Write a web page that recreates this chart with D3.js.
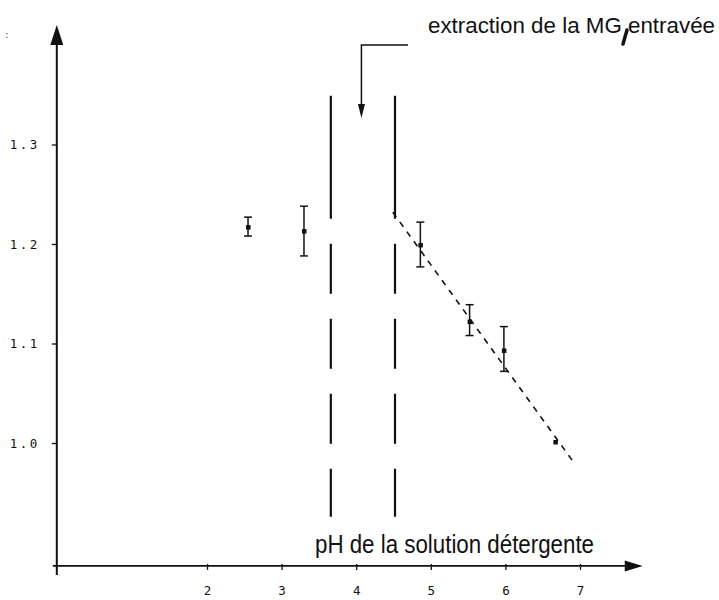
<!DOCTYPE html>
<html>
<head>
<meta charset="utf-8">
<script src="https://cdn.jsdelivr.net/npm/d3@7"></script>
<style>
  html, body { margin: 0; padding: 0; background: #fff; }
  svg { display: block; }
</style>
</head>
<body>
<script>
// ---- data ----
const phTicks = [2, 3, 4, 5, 6, 7];
const ratioTicks = [1.0, 1.1, 1.2, 1.3];
const ph = [2.55, 3.30, 4.86, 5.52, 5.98, 6.67];
const ratio = [1.217, 1.213, 1.199, 1.122, 1.093, 1.001];
const errLow = [1.208, 1.188, 1.177, 1.108, 1.072, null];
const errHigh = [1.227, 1.238, 1.222, 1.139, 1.117, null];
const boundaries = [3.66, 4.52];
const trendPh = [4.49, 6.93];
const trendRatio = [1.232, 0.979];
const xTitle = "pH de la solution détergente";
const note = "extraction de la MG entravée";

// ---- layout ----
const W = 719, H = 600;
const svg = d3.select("body").append("svg").attr("width", W).attr("height", H);

const x = d3.scaleLinear().domain([0, 7]).range([57.8, 580]);
const y = d3.scaleLinear().domain([1.0, 1.3]).range([443, 144.5]);

const ink = "#111";
const axisY = y(0.8765);
const axisX = x(0);
const fnt = "'Liberation Sans Narrow', 'Liberation Sans', Arial, sans-serif";

// x axis line with arrow
svg.append("line").attr("x1", axisX - 5).attr("x2", x(7.62)).attr("y1", axisY).attr("y2", axisY)
  .attr("stroke", ink).attr("stroke-width", 1.8);
svg.append("path")
  .attr("d", `M${x(7.84)},${axisY} L${x(7.6)},${axisY - 5.5} L${x(7.6)},${axisY + 5.5} Z`)
  .attr("fill", ink);

// y axis line with arrow
svg.append("line").attr("x1", axisX - 1).attr("x2", axisX - 1).attr("y1", y(1.40)).attr("y2", axisY + 9)
  .attr("stroke", ink).attr("stroke-width", 2);
svg.append("path")
  .attr("d", `M${axisX - 1},${y(1.42)} L${axisX - 7.5},${y(1.40)} L${axisX + 5.5},${y(1.40)} Z`)
  .attr("fill", ink);

// x ticks
const gx = svg.append("g").attr("transform", `translate(0,${axisY - 2})`)
  .call(d3.axisBottom(x).tickValues(phTicks).tickSize(6).tickPadding(16).tickFormat(d3.format("d")));
gx.select(".domain").remove();
gx.selectAll(".tick line").attr("stroke", ink).attr("stroke-width", 1.3);
gx.selectAll(".tick text").attr("fill", ink)
  .style("font-family", "'DejaVu Sans Mono', monospace").style("font-size", "12.5px");

// y ticks
const gy = svg.append("g").attr("transform", `translate(${axisX - 1},0)`)
  .call(d3.axisLeft(y).tickValues(ratioTicks).tickSize(5).tickPadding(12).tickFormat(d3.format(".1f")));
gy.select(".domain").remove();
gy.selectAll(".tick line").attr("stroke", ink).attr("stroke-width", 1.3);
gy.selectAll(".tick text").attr("fill", ink)
  .style("font-family", "'DejaVu Sans Mono', monospace").style("font-size", "12.5px")
  .style("letter-spacing", "2.5px");

// vertical boundary lines (long dashes)
svg.append("g").selectAll("line").data(boundaries).join("line")
  .attr("x1", d => x(d)).attr("x2", d => x(d))
  .attr("y1", y(1.349)).attr("y2", y(0.926))
  .attr("stroke", ink).attr("stroke-width", 2.2)
  .attr("stroke-dasharray", "123 25 50 25 50 25 50 25 50");

// trend line
svg.append("line")
  .attr("x1", x(trendPh[0])).attr("y1", y(trendRatio[0]))
  .attr("x2", x(trendPh[1])).attr("y2", y(trendRatio[1]))
  .attr("stroke", ink).attr("stroke-width", 1.6).attr("stroke-dasharray", "6 6");

// error bars
const pts = ph.map((p, i) => ({p, r: ratio[i], lo: errLow[i], hi: errHigh[i]}));
const eb = svg.append("g").selectAll("g").data(pts.filter(d => d.lo !== null)).join("g");
eb.append("line").attr("x1", d => x(d.p)).attr("x2", d => x(d.p))
  .attr("y1", d => y(d.lo)).attr("y2", d => y(d.hi)).attr("stroke", ink).attr("stroke-width", 1.5);
eb.append("line").attr("x1", d => x(d.p) - 4).attr("x2", d => x(d.p) + 4)
  .attr("y1", d => y(d.lo)).attr("y2", d => y(d.lo)).attr("stroke", ink).attr("stroke-width", 1.5);
eb.append("line").attr("x1", d => x(d.p) - 4).attr("x2", d => x(d.p) + 4)
  .attr("y1", d => y(d.hi)).attr("y2", d => y(d.hi)).attr("stroke", ink).attr("stroke-width", 1.5);

// markers
svg.append("g").selectAll("rect").data(pts).join("rect")
  .attr("x", d => x(d.p) - 2).attr("y", d => y(d.r) - 2)
  .attr("width", 4.5).attr("height", 4.5).attr("fill", ink);

// axis title
svg.append("text").attr("x", 315).attr("y", 553)
  .attr("textLength", 279).attr("lengthAdjust", "spacingAndGlyphs")
  .style("font-family", fnt)
  .style("font-size", "25px").attr("fill", ink).text(xTitle);

// annotation
svg.append("text").attr("x", 428).attr("y", 33)
  .attr("textLength", 287).attr("lengthAdjust", "spacingAndGlyphs")
  .style("font-family", fnt).style("font-size", "22.5px").attr("fill", ink).text(note);
svg.append("line").attr("x1", 627).attr("y1", 30).attr("x2", 623).attr("y2", 44)
  .attr("stroke", ink).attr("stroke-width", 3.5).attr("stroke-linecap", "round");

// annotation arrow
const arrX = x(4.07), arrTop = 45, arrTip = 118;
svg.append("path").attr("d", `M408,${arrTop} L${arrX},${arrTop} L${arrX},${arrTip - 10}`)
  .attr("fill", "none").attr("stroke", ink).attr("stroke-width", 1.5);
svg.append("path").attr("d", `M${arrX},${arrTip} L${arrX - 3.5},${arrTip - 14} L${arrX + 3.5},${arrTip - 14} Z`)
  .attr("fill", ink);

// scan speck at top-left
svg.append("text").attr("x", 5).attr("y", 38).style("font-size", "11px")
  .style("font-family", "DejaVu Sans").attr("fill", "#555").text(":");
</script>
</body>
</html>
